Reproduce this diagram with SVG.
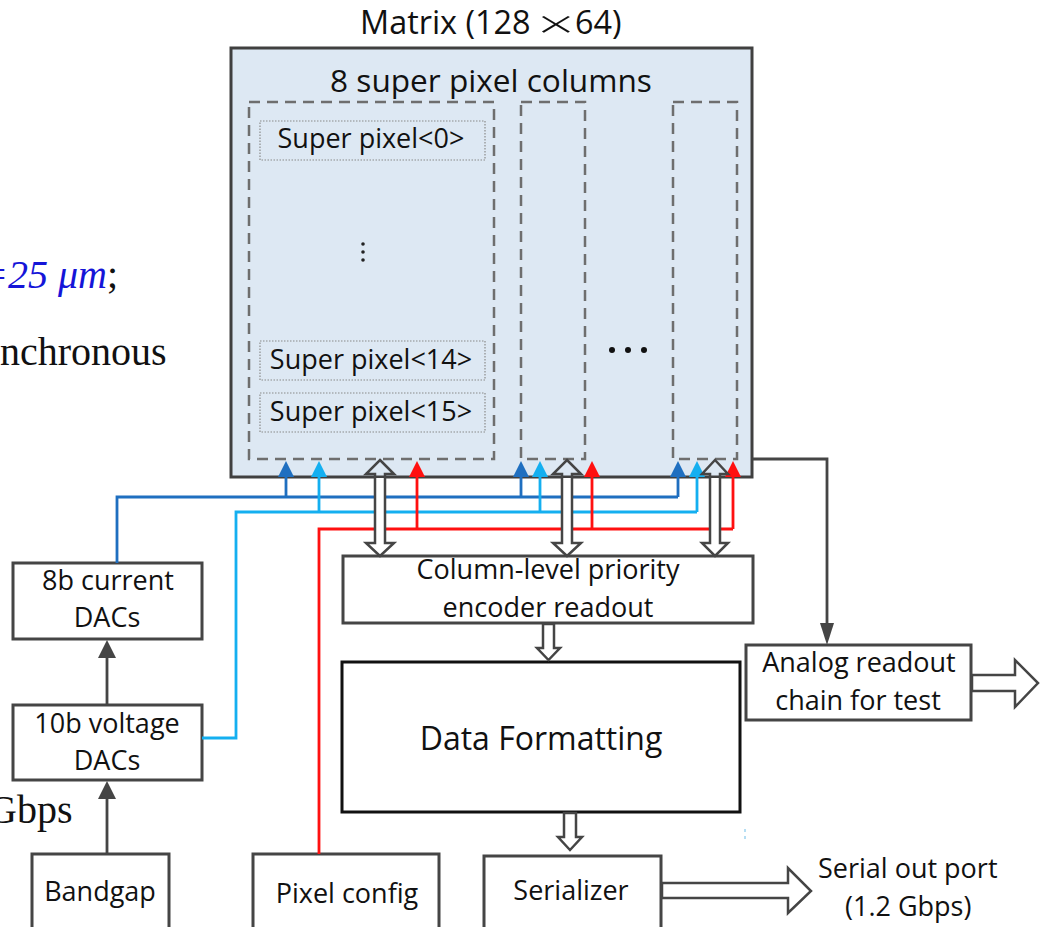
<svg xmlns="http://www.w3.org/2000/svg" width="1046" height="927" viewBox="0 0 1046 927">
  <style>
    .lbl { font-family: "Open Sans", "Noto Sans", sans-serif; fill: #111; }
    .box { fill: #ffffff; stroke: #454545; stroke-width: 3; }
    .col { fill: none; stroke: #6e6e6e; stroke-width: 2.5; stroke-dasharray: 11 7; }
    .sp { fill: none; stroke: #8a8a8a; stroke-width: 1.2; stroke-dasharray: 1.5 1.5; }
    .hollow { fill: #ffffff; stroke: #454545; stroke-width: 2.5; stroke-linejoin: miter; }
    .hollowline { fill: none; stroke: #454545; stroke-width: 2.5; }
    .dk { stroke: #1f6fc0; stroke-width: 2.8; fill: none; }
    .lt { stroke: #14aff0; stroke-width: 2.8; fill: none; }
    .rd { stroke: #ff1010; stroke-width: 2.8; fill: none; }
    .gry { stroke: #454545; stroke-width: 2.8; fill: none; }
    .doc { font-family: "Liberation Serif", "Times New Roman", serif; font-size: 40px; }
  </style>

  <!-- surrounding page text -->
  <g id="page-text">
    <text class="doc" x="-19" y="288" font-style="italic" fill="#1515d8">=25 μm<tspan fill="#111" font-style="normal">;</tspan></text>
    <text class="doc" x="0" y="365" fill="#111">nchronous</text>
    <text class="doc" x="-12" y="823" fill="#111">Gbps</text>
  </g>

  <!-- pixel matrix -->
  <g id="matrix">
    <text class="lbl" font-size="32.4" y="34"><tspan x="360">Matrix (128</tspan><tspan x="575">64)</tspan></text>
    <text class="lbl" font-size="38" font-weight="300" text-anchor="middle" transform="translate(556,38) scale(1.7,1)" x="0" y="0">×</text>
    <rect x="231" y="48" width="521" height="429" fill="#dde8f3" stroke="#404040" stroke-width="3"/>
    <text class="lbl" font-size="31.6" text-anchor="middle" x="491" y="92">8 super pixel columns</text>
  </g>

  <g id="column-0">
    <rect class="col" x="249" y="102" width="245" height="357"/>
    <g id="super-pixel-0">
      <rect class="sp" x="260" y="121" width="225" height="39"/>
      <text class="lbl" font-size="27" text-anchor="middle" x="371" y="148">Super pixel&lt;0&gt;</text>
    </g>
    <g id="vdots" fill="#222">
      <circle cx="363" cy="244" r="1.8"/>
      <circle cx="363" cy="252" r="1.8"/>
      <circle cx="363" cy="260" r="1.8"/>
    </g>
    <g id="super-pixel-14">
      <rect class="sp" x="260" y="341" width="225" height="39"/>
      <text class="lbl" font-size="27" text-anchor="middle" x="371" y="369">Super pixel&lt;14&gt;</text>
    </g>
    <g id="super-pixel-15">
      <rect class="sp" x="260" y="393" width="225" height="39"/>
      <text class="lbl" font-size="27" text-anchor="middle" x="371" y="421">Super pixel&lt;15&gt;</text>
    </g>
  </g>

  <g id="column-1">
    <rect class="col" x="521" y="102" width="64" height="357"/>
  </g>
  <g id="hdots" fill="#111">
    <circle cx="612" cy="350" r="3"/>
    <circle cx="628" cy="350" r="3"/>
    <circle cx="644" cy="350" r="3"/>
  </g>
  <g id="column-7">
    <rect class="col" x="673" y="102" width="64" height="357"/>
  </g>

  <!-- blocks -->
  <g id="priority-encoder">
    <rect class="box" x="343" y="556" width="410" height="67"/>
    <text class="lbl" font-size="27" text-anchor="middle" x="548" y="579">Column-level priority</text>
    <text class="lbl" font-size="27" text-anchor="middle" x="548" y="617">encoder readout</text>
  </g>

  <g id="data-formatting">
    <rect x="342" y="662" width="398" height="150" fill="#ffffff" stroke="#111" stroke-width="3"/>
    <text class="lbl" font-size="32" text-anchor="middle" x="541" y="750">Data Formatting</text>
  </g>

  <g id="analog-readout">
    <rect class="box" x="746" y="645" width="225" height="75"/>
    <text class="lbl" font-size="27" text-anchor="middle" x="859" y="672">Analog readout</text>
    <text class="lbl" font-size="27" text-anchor="middle" x="858" y="710">chain for test</text>
  </g>

  <g id="current-dacs">
    <rect class="box" x="13" y="563" width="189" height="76"/>
    <text class="lbl" font-size="27" text-anchor="middle" x="108" y="590">8b current</text>
    <text class="lbl" font-size="27" text-anchor="middle" x="107" y="627">DACs</text>
  </g>

  <g id="voltage-dacs">
    <rect class="box" x="13" y="705" width="189" height="75"/>
    <text class="lbl" font-size="27" text-anchor="middle" x="107" y="733">10b voltage</text>
    <text class="lbl" font-size="27" text-anchor="middle" x="107" y="770">DACs</text>
  </g>

  <g id="bandgap">
    <rect class="box" x="32" y="854" width="137" height="90"/>
    <text class="lbl" font-size="27" text-anchor="middle" x="100" y="901">Bandgap</text>
  </g>

  <g id="pixel-config">
    <rect class="box" x="253" y="854" width="186" height="90"/>
    <text class="lbl" font-size="27" text-anchor="middle" x="347" y="903">Pixel config</text>
  </g>

  <g id="serializer">
    <rect class="box" x="484" y="856" width="177" height="90"/>
    <text class="lbl" font-size="27" text-anchor="middle" x="571" y="900">Serializer</text>
  </g>

  <g id="serial-out-label">
    <text class="lbl" font-size="27" x="818" y="878">Serial out port</text>
    <text class="lbl" font-size="27" x="845" y="916">(1.2 Gbps)</text>
  </g>

  <!-- connectors -->
  <g id="connectors">
    <!-- current DAC bias bus -->
    <polyline class="dk" points="117,563 117,497 678,497"/>
    <line class="dk" x1="286" y1="497" x2="286" y2="474"/>
    <line class="dk" x1="521" y1="497" x2="521" y2="474"/>
    <line class="dk" x1="678" y1="497" x2="678" y2="474"/>
    <g fill="#1f6fc0">
      <polygon points="278,477 294,477 286,461"/>
      <polygon points="513,477 529,477 521,461"/>
      <polygon points="670,477 686,477 678,461"/>
    </g>

    <!-- voltage DAC bias bus -->
    <polyline class="lt" points="202,738 236,738 236,512 697,512"/>
    <line class="lt" x1="319" y1="512" x2="319" y2="474"/>
    <line class="lt" x1="540" y1="512" x2="540" y2="474"/>
    <line class="lt" x1="697" y1="512" x2="697" y2="474"/>
    <g fill="#14aff0">
      <polygon points="311,477 327,477 319,461"/>
      <polygon points="532,477 548,477 540,461"/>
      <polygon points="689,477 705,477 697,461"/>
    </g>

    <!-- pixel configuration bus -->
    <polyline class="rd" points="319,854 319,529 733,529"/>
    <line class="rd" x1="417" y1="529" x2="417" y2="474"/>
    <line class="rd" x1="592" y1="529" x2="592" y2="474"/>
    <line class="rd" x1="733" y1="529" x2="733" y2="474"/>
    <g fill="#ff1010">
      <polygon points="409,477 425,477 417,461"/>
      <polygon points="584,477 600,477 592,461"/>
      <polygon points="725,477 741,477 733,461"/>
    </g>

    <!-- column data links (bidirectional) -->
    <rect x="375" y="478" width="10" height="65" fill="#ffffff"/>
    <polygon class="hollowline" points="380,460 394,474 385,474 385,543 394,543 380,556 366,543 375,543 375,474 366,474"/>
    <rect x="562" y="478" width="10" height="65" fill="#ffffff"/>
    <polygon class="hollowline" points="567,460 581,474 572,474 572,543 581,543 567,556 553,543 562,543 562,474 553,474"/>
    <rect x="710" y="478" width="10" height="65" fill="#ffffff"/>
    <polygon class="hollowline" points="715,460 728,474 720,474 720,543 728,543 715,556 702,543 710,543 710,474 702,474"/>

    <!-- encoder to formatter -->
    <polygon class="hollow" points="543,624 554,624 554,648 560,648 548.5,660 537,648 543,648"/>
    <!-- formatter to serializer -->
    <polygon class="hollow" points="564,813 576,813 576,837 582,837 570,850 558,837 564,837"/>
    <!-- serial output -->
    <polygon class="hollow" points="662,883 788,883 788,868 811,891 788,913 788,898 662,898"/>
    <!-- analog output -->
    <polygon class="hollow" points="972,675 1015,675 1015,660 1038,683 1015,707 1015,691 972,691"/>

    <!-- analog test path -->
    <polyline class="gry" points="753,459 827,459 827,625"/>
    <polygon fill="#454545" points="820,623 834,623 827,645"/>

    <!-- reference chain -->
    <line class="gry" x1="107" y1="704" x2="107" y2="655"/>
    <polygon fill="#454545" points="98,658 116,658 107,640"/>
    <line class="gry" x1="107" y1="854" x2="107" y2="796"/>
    <polygon fill="#454545" points="98,799 116,799 107,781"/>
  </g>

  <!-- stray tick -->
  <line x1="745" y1="829" x2="745" y2="840" stroke="#9fd3f0" stroke-width="1.5" stroke-dasharray="3 4"/>
</svg>
